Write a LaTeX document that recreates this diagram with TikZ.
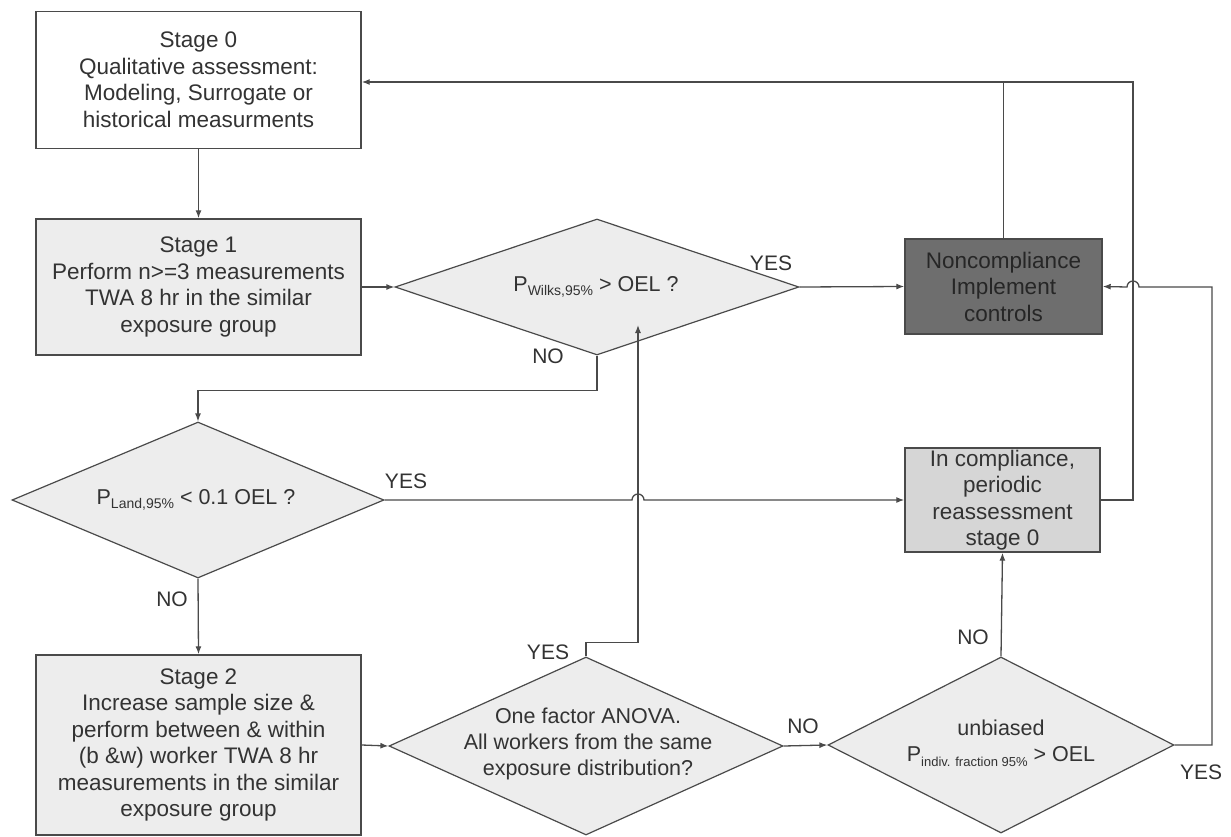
\documentclass[tikz,border=0pt]{standalone}
\usepackage{fontspec}
\setmainfont{Liberation Sans}
\usetikzlibrary{shapes.geometric,arrows.meta}
\definecolor{ln}{HTML}{4A4A4A}
\definecolor{txt}{HTML}{333333}
\definecolor{lite}{HTML}{EDEDED}
\definecolor{mid}{HTML}{D6D6D6}
\definecolor{dark}{HTML}{6E6E6E}
\newcommand\mysub[2]{\raisebox{-0.4ex}{\fontsize{#1}{#1}\selectfont #2}}
\begin{document}
\begin{tikzpicture}[x=1pt,y=-1pt,
 box/.style={draw=ln, line width=1.4pt, rectangle, inner sep=0pt, align=center, text=txt, font=\fontsize{22.5}{26.5}\selectfont},
 dia/.style={draw=ln, line width=1.2pt, diamond, fill=lite, inner sep=0pt},
 dtext/.style={align=center, text=txt, font=\fontsize{21.5}{26}\selectfont, inner sep=0pt},
 conn/.style={draw=ln, line width=1.3pt},
 arr/.style={conn, -{Latex[length=8pt,width=6pt]}},
 lbl/.style={text=txt, font=\fontsize{21}{21}\selectfont, inner sep=0pt}]
\fill[white] (0,0) rectangle (1231,837);
\useasboundingbox (0,0) rectangle (1231,837);

% boxes
\node[box, fill=white, minimum width=325pt, minimum height=137pt] (s0) at (198.5,80)
  {Stage 0\\Qualitative assessment:\\Modeling, Surrogate or\\historical measurments};
\node[box, fill=lite, minimum width=325pt, minimum height=136pt] (s1) at (198.5,287)
  {Stage 1\\Perform n>=3 measurements\\TWA 8 hr in the similar\\exposure group};
\node[box, fill=lite, minimum width=325pt, minimum height=180pt] (s2) at (198.5,745)
  {Stage 2\\Increase sample size \&\\perform between \& within\\(b \&w) worker TWA 8 hr\\measurements in the similar\\exposure group};
\node[box, fill=dark, text=black!85, minimum width=197pt, minimum height=95pt] (nc) at (1003.5,286.5)
  {Noncompliance\\Implement\\controls};
\node[box, fill=mid, minimum width=195pt, minimum height=104pt] (ic) at (1002.5,500)
  {In compliance,\\periodic\\reassessment\\stage 0};

% diamonds
\node[dia, minimum width=404pt, minimum height=136pt] (wilks) at (597,287) {};
\node[dtext] (wilkst) at (596,287) {P\mysub{14}{Wilks,95\%} > OEL ?};
\node[dia, minimum width=372pt, minimum height=156pt] (land) at (198,500) {};
\node[dtext] (landt) at (196,500) {P\mysub{14}{Land,95\%} < 0.1 OEL ?};
\node[dia, minimum width=394pt, minimum height=178pt] (anova) at (586,746) {};
\node[dtext] (anovat) at (588,744) {One factor ANOVA.\\All workers from the same\\exposure distribution?};
\node[dia, minimum width=346pt, minimum height=176pt] (unb) at (1001,745) {};
\node[dtext] (unbt) at (1001,743) {unbiased\\P\mysub{13}{indiv. fraction 95\%} > OEL};

% helper coordinates
\coordinate (hop1) at (638,500);
\coordinate (upend) at (638,325);
\coordinate (rr) at (1212,287);
\coordinate (hop2) at (1133,287);
\coordinate (tr) at (1133,82);

% connectors
\draw[arr] (s0.south) -- (s1.north);
\draw[arr] (s1.east) -- (wilks.west);
\draw[arr] (wilks.east) -- (nc.west);
\draw[arr] (wilks.south) -- ++(0,35) -| (land.north);
\draw[arr] (land.east) -- ([xshift=-6pt]hop1) arc[start angle=180,end angle=0,radius=6pt] -- (ic.west);
\draw[arr] (land.south) -- (s2.north);
\draw[arr] (s2.east) -- (anova.west);
\draw[arr] (anova.north) -- ++(0,-14) -| (upend);
\draw[arr] (anova.east) -- (unb.west);
\draw[arr] (unb.north) -- (ic.south);
\draw[arr] (unb.east) -| (rr) -- ([xshift=6pt]hop2) arc[start angle=0,end angle=180,radius=6pt] -- (nc.east);
\draw[arr] (ic.east) -| (tr) -- (s0.east |- tr);
\draw[conn] (nc.north) -- (nc.north |- tr);

% labels
\node[lbl] (yes1) at (771,263) {YES};
\node[lbl] (no1) at (548,356) {NO};
\node[lbl] (yes2) at (406,481) {YES};
\node[lbl] (no2) at (172,599) {NO};
\node[lbl] (yes3) at (548,652) {YES};
\node[lbl] (no3) at (803,726) {NO};
\node[lbl] (no4) at (973,637) {NO};
\node[lbl] (yes4) at (1201,772) {YES};
\end{tikzpicture}
\end{document}
